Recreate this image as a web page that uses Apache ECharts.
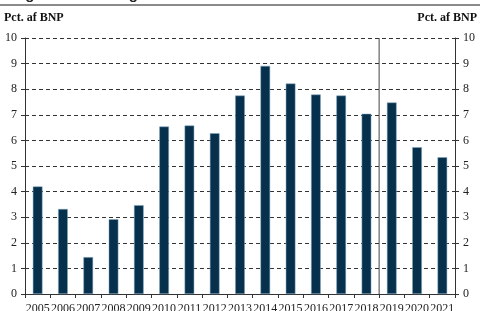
<!DOCTYPE html>
<html>
<head>
<meta charset="utf-8">
<script src="https://cdn.jsdelivr.net/npm/echarts@6/dist/echarts.min.js"></script>
<style>html,body{margin:0;padding:0;background:#fff;}#c{width:480px;height:311px;}</style>
</head>
<body>
<div id="c"></div>
<script>
const categories = ['2005','2006','2007','2008','2009','2010','2011','2012','2013','2014','2015','2016','2017','2018','2019','2020','2021'];
const values = [4.20, 3.32, 1.44, 2.92, 3.47, 6.54, 6.58, 6.28, 7.75, 8.91, 8.22, 7.79, 7.75, 7.04, 7.48, 5.73, 5.34];
const yTicks = [0,1,2,3,4,5,6,7,8,9,10];
const unitLabel = 'Pct. af BNP';
const titleText = 'Figur 2.4 Betalingsbalancen';
const forecastStartIndex = 14; // boundary before 2019

const chart = echarts.init(document.getElementById('c'), null, {renderer: 'canvas'});
const serif = '"Liberation Serif", "DejaVu Serif", serif';
const axisColor = '#333';
chart.setOption({
  animation: false,
  backgroundColor: '#fff',
  grid: {left: 25, right: 25, top: 38, bottom: 17, containLabel: false, outerBoundsMode: 'none'},
  graphic: [
    {type: 'text', left: 12, top: -13, style: {text: titleText, font: 'bold 15px "Liberation Sans", Arial, sans-serif', fill: '#222'}},
    {type: 'rect', shape: {x: 0, y: 4, width: 480, height: 2}, style: {fill: '#8a8a8a'}},
    {type: 'text', left: 4, top: 12, style: {text: unitLabel, font: 'bold 12px ' + serif, fill: '#111'}},
    {type: 'text', right: 3, top: 12, style: {text: unitLabel, font: 'bold 12px ' + serif, fill: '#111'}}
  ],
  xAxis: [{
    type: 'category',
    data: categories,
    boundaryGap: true,
    axisLine: {lineStyle: {color: axisColor, width: 1}},
    axisTick: {show: true, length: 4, alignWithLabel: false, interval: 0, lineStyle: {color: axisColor}},
    axisLabel: {interval: 0, margin: 9, fontFamily: serif, fontSize: 12, color: '#222', hideOverlap: false},
    splitLine: {show: false}
  }, {
    type: 'value', min: 0, max: categories.length, show: false
  }],
  yAxis: [{
    type: 'value', min: yTicks[0], max: yTicks[yTicks.length-1], interval: 1, position: 'left',
    axisLine: {show: true, lineStyle: {color: axisColor}},
    axisTick: {show: true, length: 4, lineStyle: {color: axisColor}},
    axisLabel: {fontFamily: serif, fontSize: 12, color: '#222', margin: 8},
    splitLine: {show: true, lineStyle: {color: '#333', type: [4, 3], width: 1}}
  }, {
    type: 'value', min: yTicks[0], max: yTicks[yTicks.length-1], interval: 1, position: 'right',
    axisLine: {show: true, lineStyle: {color: axisColor}},
    axisTick: {show: true, length: 4, lineStyle: {color: axisColor}},
    axisLabel: {fontFamily: serif, fontSize: 12, color: '#222', margin: 8},
    splitLine: {show: false}
  }],
  series: [{
    type: 'bar',
    data: values,
    barWidth: '38%',
    itemStyle: {color: '#06304c', borderColor: '#7fa6bf', borderWidth: 0.5}
  }, {
    type: 'line',
    xAxisIndex: 1,
    yAxisIndex: 0,
    data: [[forecastStartIndex, yTicks[0]], [forecastStartIndex, yTicks[yTicks.length-1]]],
    symbol: 'none',
    lineStyle: {color: '#444', width: 1},
    z: 1
  }]
});
</script>
</body>
</html>
